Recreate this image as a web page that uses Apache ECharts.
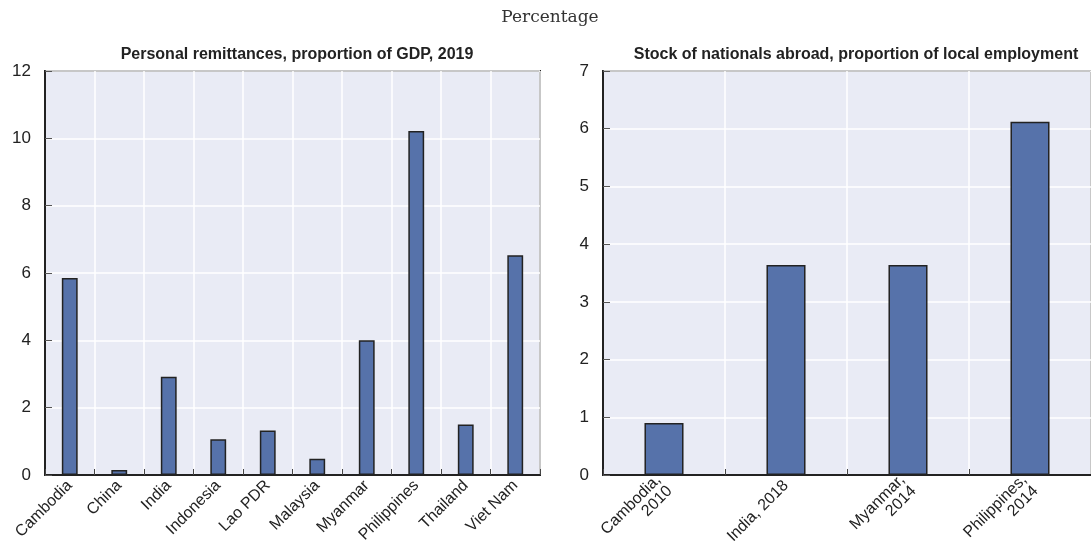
<!DOCTYPE html>
<html>
<head>
<meta charset="utf-8">
<script src="https://cdn.jsdelivr.net/npm/echarts@6/dist/echarts.min.js"></script>
<style>
  html, body { margin: 0; padding: 0; background: #fff; }
  #chart { width: 1091px; height: 560px; }
</style>
</head>
<body>
<div id="chart"></div>
<script>
// left panel: remittances, % of GDP, 2019
const remitCountries = ['Cambodia', 'China', 'India', 'Indonesia', 'Lao PDR', 'Malaysia', 'Myanmar', 'Philippines', 'Thailand', 'Viet Nam']
const remitValues = [5.85, 0.15, 2.92, 1.06, 1.32, 0.48, 4.0, 10.22, 1.5, 6.53]
const remitTicks = [0, 2, 4, 6, 8, 10, 12]

// right panel: nationals abroad, % of local employment
const stockCountries = ['Cambodia,\n2010', 'India, 2018', 'Myanmar,\n2014', 'Philippines,\n2014']
const stockValues = [0.9, 3.64, 3.64, 6.12]
const stockTicks = [0, 1, 2, 3, 4, 5, 6, 7]

const narrow = '"Liberation Sans Narrow", "Arial Narrow", "Liberation Sans", sans-serif'
const barColor = '#5672AA'
const dark = '#222'

let mycharts = echarts.init(document.getElementById('chart'))

function xAx(gridIndex, data) {
  return {
    type: 'category',
    gridIndex: gridIndex,
    data: data,
    axisLine: { show: true, lineStyle: { color: dark, width: 2 } },
    axisTick: { show: true, inside: true, length: 6, lineStyle: { color: '#444' } },
    splitLine: { show: true, lineStyle: { color: '#fff', width: 1.5 } },
    axisLabel: {
      rotate: 45,
      interval: 0,
      margin: 8,
      color: dark,
      fontFamily: narrow,
      fontSize: 16,
      lineHeight: 16,
    },
  }
}

function yAx(gridIndex, ticks) {
  return {
    type: 'value',
    gridIndex: gridIndex,
    min: ticks[0],
    max: ticks[ticks.length - 1],
    interval: ticks[1] - ticks[0],
    axisLine: { show: true, lineStyle: { color: dark, width: 2 } },
    axisTick: { show: true, inside: true, length: 7, lineStyle: { color: '#555' } },
    splitLine: { show: true, lineStyle: { color: '#fff', width: 1.5 } },
    axisLabel: {
      margin: 14,
      color: dark,
      fontFamily: narrow,
      fontSize: 17,
    },
  }
}

function barSeries(idx, values) {
  return {
    type: 'bar',
    xAxisIndex: idx,
    yAxisIndex: idx,
    data: values,
    barWidth: '32%',
    itemStyle: { color: barColor, borderColor: dark, borderWidth: 1.5 },
  }
}

const titleStyle = {
  fontFamily: narrow,
  fontSize: 16,
  fontWeight: 'bold',
  color: dark,
}

mycharts.setOption({
  animation: false,
  title: [
    {
      text: 'Percentage',
      left: 545,
      top: 4,
      textAlign: 'center',
      textStyle: { fontFamily: '"DejaVu Serif", serif', fontSize: 17, fontWeight: 'normal', color: '#333' },
    },
    { text: 'Personal remittances, proportion of GDP, 2019', left: 292, top: 42, textAlign: 'center', textStyle: titleStyle },
    { text: 'Stock of nationals abroad, proportion of local employment', left: 851, top: 42, textAlign: 'center', textStyle: titleStyle },
  ],
  grid: [
    { left: 45, top: 71, width: 495, height: 404, show: true, backgroundColor: '#E9EBF5', borderColor: dark, borderWidth: 2 },
    { left: 603, top: 71, width: 499, height: 404, show: true, backgroundColor: '#E9EBF5', borderColor: dark, borderWidth: 2 },
  ],
  xAxis: [xAx(0, remitCountries), xAx(1, stockCountries)],
  yAxis: [yAx(0, remitTicks), yAx(1, stockTicks)],
  series: [barSeries(0, remitValues), barSeries(1, stockValues)],
})
</script>
</body>
</html>
